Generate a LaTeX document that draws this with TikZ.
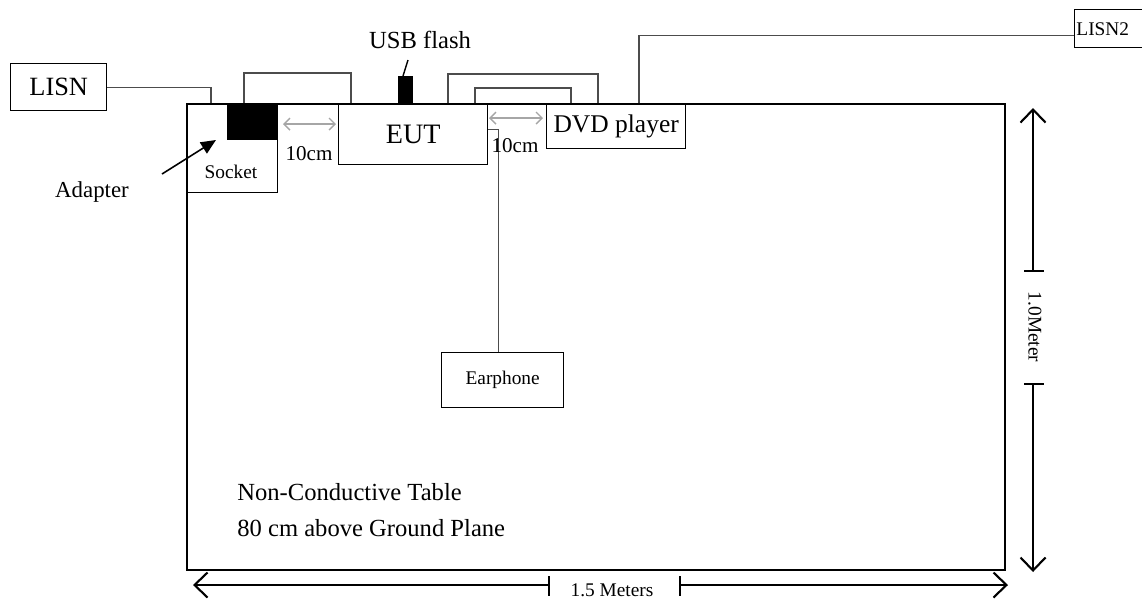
\documentclass[tikz,border=0pt]{standalone}
\usepackage{fontspec}
\setmainfont{Liberation Serif}
\usetikzlibrary{arrows.meta}

\begin{document}
\begin{tikzpicture}[
    x=0.02cm, y=-0.02cm,
    box/.style={rectangle, draw, line width=0.8pt, inner sep=0pt, anchor=north west},
    cable/.style={draw=black!70, line width=0.8pt},
    dim/.style={line width=0.7pt, -{Straight Barb[length=2.6mm,width=5mm,line width=1.2pt]}},
    gap/.style={gray!70, line width=0.8pt, {Straight Barb[length=1.2mm,width=2.4mm]}-{Straight Barb[length=1.2mm,width=2.4mm]}},
    txt/.style={inner sep=0pt, font=\fontsize{12}{14}\selectfont}
  ]
    \useasboundingbox (0,0) rectangle (1142,603);

    % table and units on it
    \node[box, line width=1.3pt, minimum width=16.36cm, minimum height=9.32cm] (table) at (186,103) {};
    \node[box, minimum width=1.82cm, minimum height=1.78cm] (socket) at (186,103) {};
    \node[txt, font=\fontsize{11}{13}\selectfont] (socketlbl) at (231,172) {Socket};
    \node[box, fill=black, minimum width=1.0cm, minimum height=0.72cm] (adapter) at (227,103) {};
    \node[box, minimum width=2.98cm, minimum height=1.22cm, font=\fontsize{16}{18}\selectfont] (eut) at (338,103) {EUT};
    \node[box, minimum width=2.78cm, minimum height=0.9cm, font=\fontsize{14.5}{17}\selectfont] (dvd) at (546,103) {DVD player};
    \node[box, minimum width=2.44cm, minimum height=1.1cm, font=\fontsize{11}{13}\selectfont] (earphone) at (441,352) {Earphone};
    \node[box, fill=black, minimum width=0.28cm, minimum height=0.54cm] (usb) at (398,76) {};

    % outside the table
    \node[box, minimum width=1.92cm, minimum height=0.94cm, font=\fontsize{15}{17}\selectfont] (lisn) at (10,63) {LISN};
    \node[box, text width=1.46cm, minimum height=0.76cm, align=left, inner xsep=1pt, font=\fontsize{11}{13}\selectfont] (lisn2) at (1074,9) {LISN2};
    \node[txt, font=\fontsize{14}{16}\selectfont] (usblbl) at (420,40) {USB flash};
    \node[txt, font=\fontsize{13}{15}\selectfont] (adaptlbl) at (92,192) {Adapter};
    \node[txt, font=\fontsize{14}{16}\selectfont, anchor=west] (note1) at (237,492) {Non-Conductive Table};
    \node[txt, font=\fontsize{14}{16}\selectfont, anchor=west] (note2) at (237,528) {80 cm above Ground Plane};

    % cables
    \coordinate (lisnin) at (211,103);
    \draw[cable] (lisn.east) -| (lisnin);
    \draw[cable] (244,103) |- (351,73) -- (351,103);
    \draw[cable] (448,103) |- (598,74) -- (598,103);
    \draw[cable] (475,103) |- (571,88) -- (571,103);
    \draw[cable] ([xshift=0.46cm]dvd.north) |- ([yshift=-0.14cm]lisn2.west);
    \draw[cable] ([yshift=0.1cm]eut.east) -| ([xshift=-0.08cm]earphone.north);
    \draw[line width=0.8pt] (403,76) -- (408,60);
    \draw[-{Triangle[length=3mm,width=2.6mm]}, line width=0.9pt] (162,174) -- (216,140);

    % 10 cm gaps
    \draw[gap] (283,124) -- (336,124);
    \node[txt] (gap1) at (309,154) {10cm};
    \draw[gap] (489,118) -- (543,118);
    \node[txt] (gap2) at (515,146) {10cm};

    % 1.0 meter
    \node[txt, font=\fontsize{11}{13}\selectfont, rotate=-90] (vlab) at (1035,327) {1.0Meter};
    \coordinate (vt) at (1033,271);
    \coordinate (vb) at (1033,384);
    \draw[dim] (vt) -- (1033,108);
    \draw[dim] (vb) -- (1033,572);
    \draw[line width=0.7pt] (1024,271) -- (1044,271) (1024,384) -- (1044,384);

    % 1.5 meters
    \node[txt, font=\fontsize{11}{13}\selectfont] (hlab) at (612,590) {1.5 Meters};
    \coordinate (hl) at (549,585);
    \coordinate (hr) at (680,585);
    \draw[dim] (hl) -- (193,585);
    \draw[dim] (hr) -- (1008,585);
    \draw[line width=0.7pt] (549,576) -- (549,596) (680,576) -- (680,596);
\end{tikzpicture}
\end{document}
